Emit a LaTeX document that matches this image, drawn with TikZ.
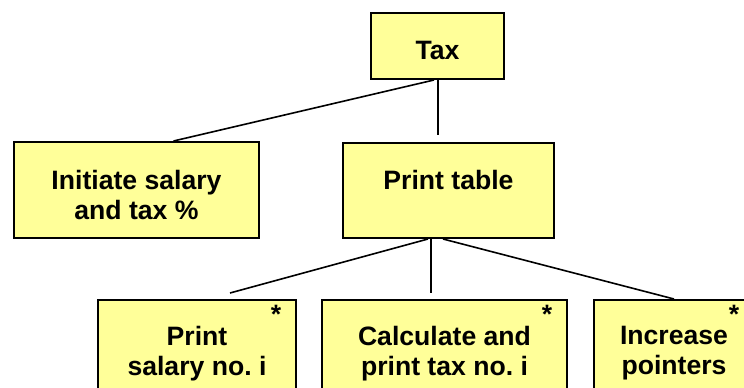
\documentclass[tikz,border=0pt]{standalone}
\usepackage{fontspec}
\setmainfont{Liberation Sans}
\frenchspacing
\definecolor{boxfill}{HTML}{FFFF99}
\tikzset{
  box/.style={draw=black, line width=2pt, fill=boxfill, inner sep=0pt, anchor=north west},
  lbl/.style={font=\bfseries\fontsize{26.6}{30}\selectfont, align=center, inner sep=0pt},
  starmark/.style={font=\bfseries\fontsize{26.6}{30}\selectfont, inner sep=0pt, anchor=north},
  conn/.style={draw=black, line width=1.6pt}
}
\begin{document}
\begin{tikzpicture}[x=1pt,y=-1pt]
\useasboundingbox (0,0) rectangle (744,388);
\clip (0,0) rectangle (744,388);
\node[box, minimum width=133pt, minimum height=66pt,
  label={[lbl, yshift=-4.5pt]center:Tax}] (tax) at (370,12) {};
\node[box, minimum width=245pt, minimum height=96pt,
  label={[lbl, yshift=-4.5pt]center:Initiate salary\\and tax \%}] (init) at (13,141) {};
\node[box, minimum width=211pt, minimum height=95pt,
  label={[lbl, yshift=11pt]center:Print table}] (pt) at (342,142) {};
\node[box, minimum width=198pt, minimum height=110pt,
  label={[lbl, yshift=1.5pt]center:Print\\salary no.\ i}] (ps) at (97,299) {};
\node[box, minimum width=245pt, minimum height=110pt,
  label={[lbl, yshift=1.5pt]center:Calculate and\\print tax no.\ i}] (calc) at (321,299) {};
\node[box, minimum width=160pt, minimum height=110pt,
  label={[lbl, yshift=1.5pt]center:Increase\\pointers}] (inc) at (593,299) {};
\node[starmark] (s1) at ([xshift=-21pt,yshift=-6pt]ps.north east) {*};
\node[starmark] (s2) at ([xshift=-21pt,yshift=-6pt]calc.north east) {*};
\node[starmark] (s3) at ([xshift=-21pt,yshift=-6pt]inc.north east) {*};
\draw[conn] ([xshift=-3.5pt]tax.south) -- ([xshift=37pt]init.north);
\draw[conn] ([xshift=0.5pt]tax.south) -- ([xshift=-10.5pt,yshift=7pt]pt.north);
\draw[conn] ([xshift=-20.5pt]pt.south) -- ([xshift=33pt,yshift=6pt]ps.north);
\draw[conn] ([xshift=-17.5pt]pt.south) -- ([xshift=-13.5pt,yshift=6pt]calc.north);
\draw[conn] ([xshift=-5.5pt]pt.south) -- (inc.north);
\end{tikzpicture}
\end{document}
